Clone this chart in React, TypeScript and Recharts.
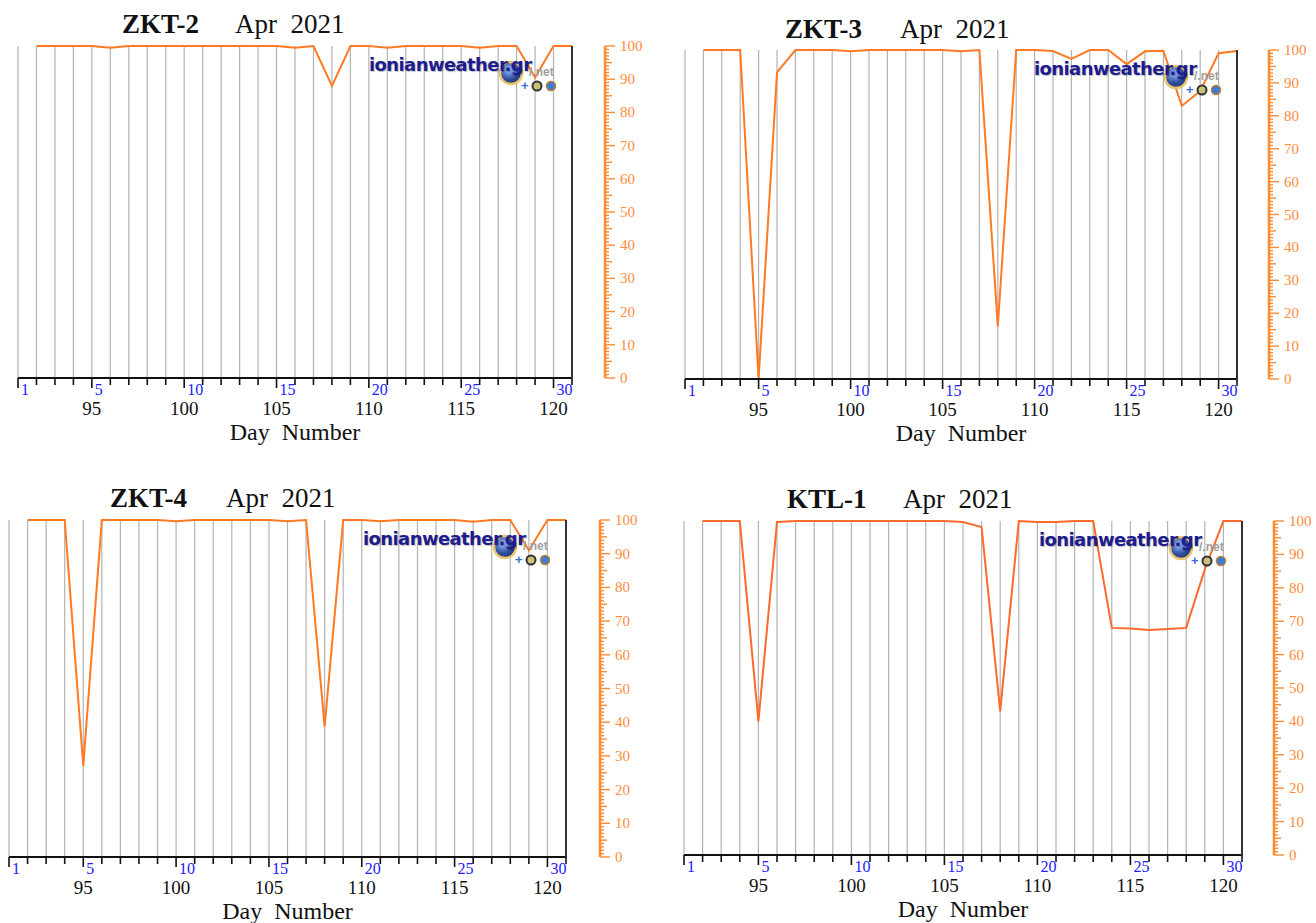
import { CartesianGrid, Line, LineChart, XAxis, YAxis } from "recharts";

// day of year (1 Apr 2021 = day 91); one value per day
const days = [92, 93, 94, 95, 96, 97, 98, 99, 100, 101, 102, 103, 104, 105, 106, 107, 108, 109, 110, 111, 112, 113, 114, 115, 116, 117, 118, 119, 120, 121];

const zkt2 = [100, 100, 100, 100, 99.5, 100, 100, 100, 100, 100, 100, 100, 100, 100, 99.5, 100, 88, 100, 100, 99.5, 100, 100, 100, 100, 99.5, 100, 100, 90.5, 100, 100];
const zkt3 = [100, 100, 100, 0, 93.2, 100, 100, 100, 99.6, 100, 100, 100, 100, 100, 99.6, 100, 16, 100, 100, 99.7, 97.3, 100, 100, 95.7, 99.6, 99.8, 83, 87.5, 99, 99.7];
const zkt4 = [100, 100, 100, 27, 100, 100, 100, 100, 99.6, 100, 100, 100, 100, 100, 99.6, 100, 38.7, 100, 100, 99.6, 100, 100, 100, 100, 99.5, 100, 100, 91, 100, 100];
const ktl1 = [100, 100, 100, 40, 99.7, 100, 100, 100, 100, 100, 100, 100, 100, 100, 99.7, 98.2, 43, 100, 99.7, 99.7, 100, 100, 68, 67.8, 67.4, 67.7, 68, 85.5, 100, 100];

const xTicks = Array.from({ length: 31 }, (_, i) => 91 + i);
const dayNumberLabels = [95, 100, 105, 110, 115, 120];
const monthDayTicks = [91, 95, 100, 105, 110, 115, 120];
const monthDayLabels = ["1", "5", "10", "15", "20", "25", "30"];
const rulerTicks = Array.from({ length: 101 }, (_, i) => i);

const SERIF = "'Liberation Serif', 'Times New Roman', serif";
const SANS = "'Liberation Sans', Arial, sans-serif";
const ORANGE = "#ff7a22";
const RULER = "#ff8a30";
const FRAME = "#333333";
const PAD = 12;
const RULER_W = 41;
const AXIS_H = 70;

const panels = [
  { name: "ZKT-2", values: zkt2, left: 18, top: 46, right: 572, bottom: 378, ruler: 605, titleY: 25, nameX: 122, dateX: 235, color: ORANGE },
  { name: "ZKT-3", values: zkt3, left: 685, top: 50, right: 1237, bottom: 379, ruler: 1269, titleY: 30, nameX: 785, dateX: 900, color: ORANGE },
  { name: "ZKT-4", values: zkt4, left: 9, top: 520, right: 566, bottom: 857, ruler: 600, titleY: 499, nameX: 110, dateX: 226, color: ORANGE },
  { name: "KTL-1", values: ktl1, left: 684, top: 521, right: 1242, bottom: 855, ruler: 1274, titleY: 500, nameX: 787, dateX: 903, color: "#ff6a2c" },
];

function DayTick(props: any) {
  const { x, y, payload } = props;
  const v = payload.value as number;
  const idx = monthDayTicks.indexOf(v);
  return (
    <g>
      <line x1={x} x2={x} y1={y} y2={y + (idx >= 0 ? 10 : 7)} stroke="#111" strokeWidth={1.6} />
      {idx >= 0 && (
        <text x={x + 3} y={y + 17} fill="#2020ff" fontSize={16} fontFamily={SERIF}>
          {monthDayLabels[idx]}
        </text>
      )}
      {dayNumberLabels.includes(v) && (
        <text x={x} y={y + 37} textAnchor="middle" fill="#111" fontSize={19} fontFamily={SERIF}>
          {v}
        </text>
      )}
    </g>
  );
}

function RulerTick(props: any) {
  const { x, y, payload } = props;
  const v = payload.value as number;
  const len = v % 10 === 0 ? 10 : v % 5 === 0 ? 7 : 4;
  return (
    <g>
      <line x1={x} x2={x + len} y1={y} y2={y} stroke={RULER} strokeWidth={1.4} />
      {v % 10 === 0 && (
        <text x={x + 15} y={y + 5} fill="#ff8c3c" fontSize={15} fontFamily={SERIF}>
          {v}
        </text>
      )}
    </g>
  );
}

function DayNumberLabel(props: any) {
  const vb = props.viewBox || { x: 0, y: 0, width: 0 };
  return (
    <text x={vb.x + vb.width / 2} y={vb.y + 62} textAnchor="middle" fill="#111" fontSize={24} fontFamily={SERIF} style={{ whiteSpace: "pre" }}>
      {"Day  Number"}
    </text>
  );
}

function Watermark({ right, top }: { right: number; top: number }) {
  const gid = `globe${right}${top}`;
  return (
    <>
      <svg style={{ position: "absolute", left: right - 80, top: top + 10, overflow: "visible" }} width={80} height={40}>
        <defs>
          <radialGradient id={gid} cx="40%" cy="35%" r="70%">
            <stop offset="0%" stopColor="#8fb8ff" />
            <stop offset="60%" stopColor="#1b3f9a" />
            <stop offset="100%" stopColor="#0c1f5a" />
          </radialGradient>
        </defs>
        <circle cx={19} cy={17} r={11} fill={`url(#${gid})`} stroke="#e8c060" strokeWidth={2.5} opacity={0.9} />
        <text x={37} y={20} fill="#a0a0a0" fontSize={12} fontFamily={SANS} fontWeight={700}>/.net</text>
        <text x={29} y={34} fill="#3b6fd0" fontSize={13} fontFamily={SANS} fontWeight={700}>+</text>
        <circle cx={45} cy={30} r={4.5} fill="#c9c27a" stroke="#333" strokeWidth={2} />
        <circle cx={59} cy={30} r={4.5} fill="#3a7bd5" stroke="#c07a2a" strokeWidth={1.5} />
      </svg>
      <div
        style={{
          position: "absolute",
          left: right - 203,
          top: top + 9,
          fontFamily: "'DejaVu Sans', Verdana, sans-serif",
          fontWeight: 700,
          fontSize: 18,
          lineHeight: "20px",
          letterSpacing: -0.6,
          color: "#1d1d8f",
          textShadow: "1px 1px 1px rgba(0,0,0,0.25)",
          whiteSpace: "pre",
        }}
      >
        ionianweather.gr
      </div>
    </>
  );
}

function Panel({ p }: { p: (typeof panels)[number] }) {
  const data = days.map((d, i) => ({ day: d, value: p.values[i] }));
  const gap = p.ruler - p.right;
  const width = PAD + (p.ruler - p.left) + RULER_W + 2;
  const height = PAD + (p.bottom - p.top) + AXIS_H + 2;
  return (
    <>
      <div style={{ position: "absolute", left: p.nameX, top: p.titleY - 14, fontFamily: SERIF, fontSize: 27, lineHeight: "27px", fontWeight: 700, color: "#111" }}>
        {p.name}
      </div>
      <div style={{ position: "absolute", left: p.dateX, top: p.titleY - 14, fontFamily: SERIF, fontSize: 27, lineHeight: "27px", color: "#111", whiteSpace: "pre" }}>
        {"Apr  2021"}
      </div>
      <div style={{ position: "absolute", left: p.left - PAD, top: p.top - PAD }}>
        <LineChart width={width} height={height} data={data} margin={{ top: PAD, left: PAD, right: 2, bottom: 2 }}>
          <CartesianGrid horizontal={false} stroke="#b3b3b3" strokeWidth={1.2} />
          <XAxis
            dataKey="day"
            type="number"
            domain={[91, 121]}
            ticks={xTicks}
            interval={0}
            height={AXIS_H}
            axisLine={{ stroke: "#111", strokeWidth: 2 }}
            tickLine={false}
            tickSize={0}
            tickMargin={0}
            tick={<DayTick />}
            label={<DayNumberLabel />}
          />
          <XAxis xAxisId="top" orientation="top" type="number" domain={[91, 121]} height={0} tick={false} tickLine={false} axisLine={{ stroke: FRAME, strokeWidth: 2 }} />
          <YAxis type="number" domain={[0, 100]} width={0} tick={false} tickLine={false} axisLine={{ stroke: FRAME, strokeWidth: 2 }} />
          <YAxis yAxisId="frameR" orientation="right" type="number" domain={[0, 100]} width={gap} tick={false} tickLine={false} axisLine={{ stroke: FRAME, strokeWidth: 2 }} />
          <YAxis
            yAxisId="ruler"
            orientation="right"
            type="number"
            domain={[0, 100]}
            ticks={rulerTicks}
            interval={0}
            width={RULER_W}
            tickLine={false}
            tickSize={0}
            tickMargin={0}
            tick={<RulerTick />}
            axisLine={{ stroke: RULER, strokeWidth: 2.5 }}
          />
          <Line yAxisId="ruler" type="linear" dataKey="value" stroke={p.color} strokeWidth={2} dot={false} activeDot={false} isAnimationActive={false} />
        </LineChart>
      </div>
      <Watermark right={p.right} top={p.top} />
    </>
  );
}

export default function App() {
  return (
    <div style={{ position: "absolute", left: 0, top: 0, width: 1316, height: 923, overflow: "hidden", background: "#fff" }}>
      {panels.map((p) => (
        <Panel key={p.name} p={p} />
      ))}
    </div>
  );
}
